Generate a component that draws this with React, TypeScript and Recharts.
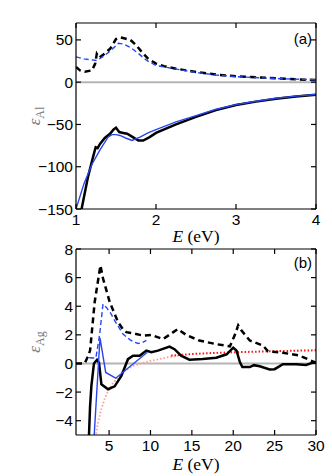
import { LineChart, Line, XAxis, YAxis, ReferenceLine, Label } from "recharts";

type Pt = [number, number];

// (a) aluminium: measured (black) and model (blue), eps1 solid, eps2 dashed
const alEps1Exp: Pt[] = [
  [1.04, -170], [1.07, -150], [1.15, -112], [1.22, -86], [1.246, -77], [1.27, -78],
  [1.3, -73], [1.36, -66], [1.425, -61], [1.47, -56], [1.5, -54], [1.54, -59],
  [1.59, -60], [1.64, -61], [1.71, -65], [1.78, -69], [1.84, -69], [1.92, -65],
  [2.0, -60], [2.25, -50], [2.5, -41], [2.75, -33], [3.0, -27], [3.25, -23],
  [3.5, -19.5], [3.75, -17], [4.0, -15],
];
const alEps1Model: Pt[] = [
  [1.0, -150], [1.1, -120], [1.2, -97], [1.3, -80], [1.4, -65], [1.45, -62],
  [1.5, -62], [1.55, -63], [1.62, -66], [1.7, -69], [1.8, -65], [1.9, -60],
  [2.0, -56], [2.25, -47], [2.5, -39.5], [2.75, -32], [3.0, -26.5], [3.25, -22.5],
  [3.5, -19], [3.75, -16.5], [4.0, -14.5],
];
const alEps2Exp: Pt[] = [
  [1.0, 18], [1.05, 14], [1.11, 12.5], [1.2, 14], [1.24, 22], [1.26, 33.5],
  [1.29, 29], [1.36, 34], [1.43, 40], [1.5, 51], [1.55, 53], [1.6, 52],
  [1.68, 50], [1.75, 44], [1.82, 36], [1.9, 28], [2.0, 22], [2.1, 19],
  [2.25, 16], [2.5, 12], [2.75, 9], [3.0, 7], [3.5, 4.5], [4.0, 2.5],
];
const alEps2Model: Pt[] = [
  [1.0, 30], [1.1, 27.5], [1.26, 25.6], [1.35, 31], [1.43, 37], [1.53, 46],
  [1.6, 45], [1.68, 41], [1.76, 35.5], [1.88, 26], [2.0, 19.7], [2.25, 15.5],
  [2.5, 11.5], [2.75, 8.5], [3.0, 6.5], [3.5, 4.3], [4.0, 2.8],
];

// (b) silver
const agEps1Exp: Pt[] = [
  [2.5, -6], [2.57, -5], [2.7, -3], [2.86, -1.57], [3.17, 0], [3.54, 0.26],
  [3.78, 0.05], [4.07, -1.46], [4.87, -1.8], [5.67, -1.6], [6.48, -0.87],
  [7.28, 0.3], [7.89, 0.54], [8.69, 0.54], [9.5, 0.9], [10.1, 0.78], [10.9, 0.9],
  [12.3, 1.18], [12.9, 1.0], [13.7, 0.54], [14.7, 0.26], [16.3, 0.31], [17.95, 0.4],
  [19.2, 0.64], [20.0, 1.1], [20.4, 0.9], [20.8, 0.1], [21.1, -0.25], [22.0, -0.25],
  [22.5, -0.12], [23.2, -0.2], [24.4, -0.42], [25.0, -0.4], [26.0, -0.05], [27.6, -0.05],
  [28.8, -0.1], [29.8, 0.1], [30.0, 0.05],
];
const agEps2Exp: Pt[] = [
  [1.0, 0], [2.05, 0], [2.45, 0.5], [2.7, 0.9], [3.26, 4.3], [3.95, 6.85],
  [4.26, 5.95], [5.07, 4.3], [6.07, 2.9], [6.68, 2.38], [7.09, 2.19], [7.9, 2.1],
  [9.1, 1.95], [10.1, 2.0], [11.5, 1.7], [13.3, 2.4], [14.3, 2.0], [15.9, 1.6],
  [17.95, 1.35], [19.6, 1.2], [20.2, 2.0], [20.6, 2.66], [21.0, 2.3], [22.0, 1.6],
  [23.6, 1.25], [24.2, 0.85], [26.0, 0.75], [28.0, 0.55], [29.8, 0.1], [30.0, 0.05],
];
const agEps1Model: Pt[] = [
  [3.1, -6], [3.2, -5], [3.9, 1.79], [4.59, -0.63], [5.8, -1.03], [9.62, 0.78],
];
const agEps2Model: Pt[] = [
  [2.6, 0.4], [3.4, 0.38], [3.85, 2.0], [4.26, 4.15], [4.7, 3.9], [5.2, 3.5],
  [5.67, 3.0], [6.2, 2.5], [6.68, 2.05], [7.5, 1.67], [8.0, 1.5], [8.5, 1.4],
  [9.0, 1.45], [9.5, 1.62],
];
const agDrudeLow: Pt[] = [
  [3.3, -5.4], [3.6, -4.3], [4.0, -3.3], [4.5, -2.4], [5.0, -1.8], [5.5, -1.35],
  [6.0, -1.05], [7.0, -0.45], [8.0, -0.15], [9.0, 0.03], [10.0, 0.18], [11.0, 0.3],
  [12.0, 0.42], [13.0, 0.52], [14.0, 0.6],
];
const agDrudeHigh: Pt[] = [
  [12.5, 0.55], [15, 0.66], [17.5, 0.73], [20, 0.78], [22.5, 0.82], [25, 0.86],
  [27.5, 0.89], [30, 0.92],
];

const alXTicks = [1, 2, 3, 4];
const alYTicks = [-150, -100, -50, 0, 50];
const agXTicks = [5, 10, 15, 20, 25, 30];
const agYTicks = [-4, -2, 0, 2, 4, 6, 8];

const rows = (pts: Pt[]) => pts.map(([x, y]) => ({ x, y }));
const fmt = (v: number) => String(v).replace("-", "\u2212");

const tickFont = { fontSize: 15.5, fill: "#000", fontFamily: "Liberation Sans, Arial, sans-serif" };
const axisLine = { stroke: "#000", strokeWidth: 1.2 };
const tickLine = { stroke: "#000", strokeWidth: 1.2 };
const noTick = () => <g />;

function XLabel({ viewBox, dy }: any) {
  return (
    <text
      x={viewBox.x + viewBox.width / 2}
      y={viewBox.y + dy}
      textAnchor="middle"
      fontFamily="Liberation Serif, serif"
      fontSize={17.5}
      fill="#000"
    >
      <tspan fontStyle="italic">E</tspan> (eV)
    </text>
  );
}

function YLabel({ viewBox, sub }: any) {
  const cx = 40;
  const cy = viewBox.y + viewBox.height / 2;
  return (
    <text
      x={cx}
      y={cy}
      transform={`rotate(-90, ${cx}, ${cy})`}
      textAnchor="middle"
      fontFamily="Liberation Serif, serif"
      fill="#7a7a7a"
      fontSize={17}
    >
      <tspan fontStyle="italic">ε</tspan>
      <tspan fontSize={12} dy={4}>{sub}</tspan>
    </text>
  );
}

function PanelTag({ viewBox, tag, dy }: any) {
  return (
    <text
      x={viewBox.x + viewBox.width - 4}
      y={viewBox.y + viewBox.height + dy}
      textAnchor="end"
      fontFamily="Liberation Sans, Arial, sans-serif"
      fontSize={15}
      fill="#000"
    >
      {tag}
    </text>
  );
}

type PanelProps = {
  height: number;
  top: number;
  xAxisHeight: number;
  labelDy: number;
  xDomain: [number, number];
  yDomain: [number, number];
  xTicks: number[];
  yTicks: number[];
  sub: string;
  tag: string;
  tagDy: number;
  children: React.ReactNode;
};

function Panel(p: PanelProps) {
  return (
    <LineChart width={332} height={p.height} margin={{ top: p.top - 1, right: 15, bottom: 0, left: 0 }}>
      <XAxis
        dataKey="x"
        type="number"
        domain={p.xDomain}
        ticks={p.xTicks}
        allowDataOverflow
        height={p.xAxisHeight}
        tickSize={-5}
        tickMargin={10}
        tick={tickFont}
        axisLine={axisLine}
        tickLine={tickLine}
      >
        <Label content={<XLabel dy={p.labelDy} />} />
      </XAxis>
      <XAxis
        xAxisId="top"
        orientation="top"
        dataKey="x"
        type="number"
        domain={p.xDomain}
        ticks={p.xTicks}
        allowDataOverflow
        height={1}
        tickSize={-5}
        tick={noTick}
        axisLine={axisLine}
        tickLine={tickLine}
      >
        <Label content={<PanelTag tag={p.tag} dy={p.tagDy} />} />
      </XAxis>
      <YAxis
        type="number"
        domain={p.yDomain}
        ticks={p.yTicks}
        allowDataOverflow
        width={76}
        tickSize={-5}
        tickMargin={8}
        tick={tickFont}
        tickFormatter={fmt}
        axisLine={axisLine}
        tickLine={tickLine}
      >
        <Label content={<YLabel sub={p.sub} />} />
      </YAxis>
      <YAxis
        yAxisId="right"
        orientation="right"
        type="number"
        domain={p.yDomain}
        ticks={p.yTicks}
        allowDataOverflow
        width={1}
        tickSize={-5}
        tick={noTick}
        axisLine={axisLine}
        tickLine={tickLine}
      />
      <ReferenceLine y={0} stroke="#b4b4b4" strokeWidth={2} />
      {p.children}
    </LineChart>
  );
}

const lineCommon = { dataKey: "y", type: "linear" as const, dot: false, activeDot: false, isAnimationActive: false };
const BLUE = "#2846f0";

export default function App() {
  return (
    <div style={{ position: "absolute", left: 0, top: 0, width: 332, height: 476, background: "#fff" }}>
      <div style={{ position: "absolute", left: 0, top: 0 }}>
        <Panel
          height={250}
          top={23}
          xAxisHeight={41}
          labelDy={33}
          xDomain={[1, 4]}
          yDomain={[-150, 70]}
          xTicks={alXTicks}
          yTicks={alYTicks}
          sub="Al"
          tag="(a)"
          tagDy={21}
        >
          <Line {...lineCommon} data={rows(alEps2Exp)} stroke="#000" strokeWidth={2.5} strokeDasharray="6 4" />
          <Line {...lineCommon} data={rows(alEps2Model)} stroke={BLUE} strokeWidth={1.4} strokeDasharray="5 3" />
          <Line {...lineCommon} data={rows(alEps1Exp)} stroke="#000" strokeWidth={2.5} />
          <Line {...lineCommon} data={rows(alEps1Model)} stroke={BLUE} strokeWidth={1.4} />
        </Panel>
      </div>
      <div style={{ position: "absolute", left: 0, top: 236 }}>
        <Panel
          height={240}
          top={13}
          xAxisHeight={41}
          labelDy={35}
          xDomain={[1, 30]}
          yDomain={[-5, 8]}
          xTicks={agXTicks}
          yTicks={agYTicks}
          sub="Ag"
          tag="(b)"
          tagDy={19}
        >
          <Line {...lineCommon} data={rows(agDrudeLow)} stroke="#ff9a9a" strokeWidth={1.8} strokeDasharray="1.5 2" />
          <Line {...lineCommon} data={rows(agDrudeHigh)} stroke="#ff1010" strokeWidth={2} strokeDasharray="1.5 2" />
          <Line {...lineCommon} data={rows(agEps2Exp)} stroke="#000" strokeWidth={2.5} strokeDasharray="6 4" />
          <Line {...lineCommon} data={rows(agEps2Model)} stroke={BLUE} strokeWidth={1.4} strokeDasharray="5 3" />
          <Line {...lineCommon} data={rows(agEps1Exp)} stroke="#000" strokeWidth={2.5} />
          <Line {...lineCommon} data={rows(agEps1Model)} stroke={BLUE} strokeWidth={1.4} />
        </Panel>
      </div>
    </div>
  );
}
